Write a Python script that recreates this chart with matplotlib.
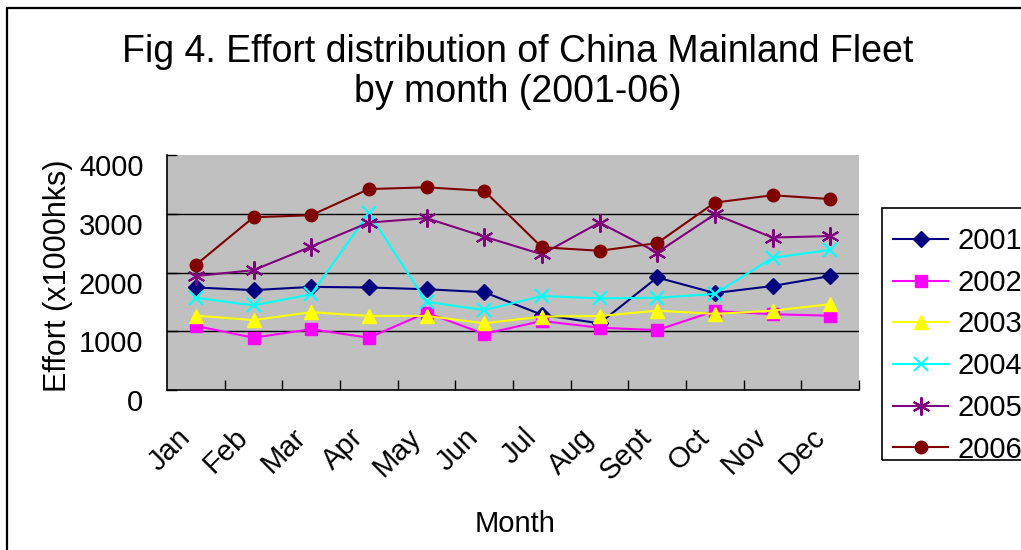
import matplotlib
matplotlib.use("Agg")
import matplotlib.pyplot as plt
import matplotlib.transforms as mtransforms
from matplotlib.patches import Rectangle

# monthly fishing effort (x1000 hooks), one list per year
months = ["Jan", "Feb", "Mar", "Apr", "May", "Jun",
          "Jul", "Aug", "Sept", "Oct", "Nov", "Dec"]
effort_2001 = [1745, 1700, 1755, 1745, 1715, 1665, 1280, 1135, 1915, 1650, 1770, 1940]
effort_2002 = [1090, 890, 1035, 890, 1317, 955, 1175, 1060, 1020, 1345, 1290, 1265]
effort_2003 = [1265, 1190, 1325, 1260, 1260, 1135, 1250, 1260, 1350, 1295, 1350, 1460]
effort_2004 = [1570, 1440, 1630, 3010, 1500, 1360, 1600, 1560, 1570, 1635, 2250, 2385]
effort_2005 = [1940, 2040, 2440, 2850, 2925, 2610, 2310, 2850, 2340, 2990, 2595, 2620]
effort_2006 = [2130, 2940, 2975, 3420, 3450, 3390, 2430, 2370, 2500, 3190, 3315, 3250]
years = ["2001", "2002", "2003", "2004", "2005", "2006"]

plt.rcParams["font.family"] = ["Liberation Sans", "DejaVu Sans"]

W, H = 1021, 550
fig = plt.figure(figsize=(W / 100, H / 100), dpi=100)

# plot area in pixel terms: x 167..859, y 155..390
ax = fig.add_axes([167 / W, 1 - 390 / H, (859 - 167) / W, (390 - 155) / H])
ax.set_facecolor("#C0C0C0")

styles = [
    dict(color="#000080", marker="D", ms=8),
    dict(color="#FF00FF", marker="s", ms=8),
    dict(color="#FFFF00", marker="^", ms=10),
    dict(color="#00FFFF", marker="x", ms=10, mew=1.5),
    dict(color="#800080", marker=(6, 2, 0), ms=13, mew=1.5),
    dict(color="#800000", marker="o", ms=9),
]
series = [effort_2001, effort_2002, effort_2003, effort_2004, effort_2005, effort_2006]
x = list(range(len(months)))
for yr, vals, st in zip(years, series, styles):
    ax.plot(x, vals, lw=1.5, label=yr, **st)

ax.set_xlim(-0.5, len(months) - 0.5)
ax.set_ylim(0, 4000)

for v in [1000, 2000, 3000]:
    ax.axhline(v, color="black", lw=1, zorder=0.5)

for side in ["top", "right"]:
    ax.spines[side].set_visible(False)
for side in ["left", "bottom"]:
    ax.spines[side].set_color("black")
    ax.spines[side].set_linewidth(1.2)

# y axis
ax.set_yticks([0, 1000, 2000, 3000, 4000])
ax.tick_params(axis="y", direction="in", length=7, width=1, pad=17, labelsize=21)
offset = mtransforms.ScaledTranslation(0, -0.10, fig.dpi_scale_trans)
for lbl in ax.get_yticklabels():
    lbl.set_transform(lbl.get_transform() + offset)

# x axis: category boundaries as inward ticks, month names rotated
ax.set_xticks(x)
ax.set_xticklabels(months)
ax.set_xticks([i + 0.5 for i in range(len(months))], minor=True)
ax.tick_params(axis="x", which="major", length=0, pad=31, labelsize=21)
ax.tick_params(axis="x", which="minor", direction="in", length=7, width=1)
xoff = mtransforms.ScaledTranslation(-0.10, 0, fig.dpi_scale_trans)
for lbl in ax.get_xticklabels():
    lbl.set_rotation(45)
    lbl.set_ha("right")
    lbl.set_va("center")
    lbl.set_rotation_mode("anchor")
    lbl.set_transform(lbl.get_transform() + xoff)

# titles and axis labels
fig.text(518 / W, 1 - 72 / H,
         "Fig 4. Effort distribution of China Mainland Fleet\nby month (2001-06)",
         ha="center", va="center", fontsize=27, linespacing=1.12)
fig.text(58 / W, 1 - 276 / H, "Effort (x1000hks)", rotation=90,
         ha="center", va="center", fontsize=22)
fig.text(515 / W, 1 - 524 / H, "Month", ha="center", va="center", fontsize=21)

# legend box, running off the right edge
fig.patches.append(Rectangle((882 / W, 1 - 460 / H), 0.2, (460 - 208) / H,
                             transform=fig.transFigure, fill=False,
                             edgecolor="black", lw=1.2))
ax.legend(loc="upper left", bbox_to_anchor=(893 / W, 1 - 227 / H),
          bbox_transform=fig.transFigure, frameon=False, fontsize=21,
          borderpad=0, borderaxespad=0, handlelength=1.9, handletextpad=0.3,
          labelspacing=0.47)

# outer chart border
fig.patches.append(Rectangle((7 / W, -0.1), 1.1, 1 - 8 / H + 0.1,
                             transform=fig.transFigure, fill=False,
                             edgecolor="black", lw=1.6))

fig.savefig("out.png", dpi=100)
